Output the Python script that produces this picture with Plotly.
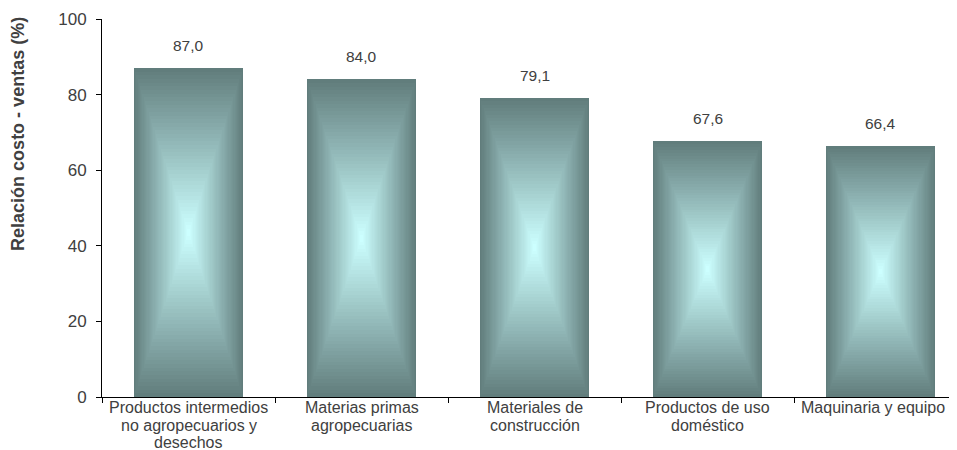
import plotly.graph_objects as go

categories = [
    "Productos intermedios<br>no agropecuarios y<br>desechos",
    "Materias primas<br>agropecuarias",
    "Materiales de<br>construcción",
    "Productos de uso<br>doméstico",
    "Maquinaria y equipo",
]
values = [87.0, 84.0, 79.1, 67.6, 66.4]
y_ticks = [0, 20, 40, 60, 80, 100]
y_title = "Relación costo - ventas (%)"

EDGE = (95, 122, 121)
CENTER = (204, 255, 255)
N_LAYERS = 45
BAR_W = 0.63
FONT = "Liberation Sans, Arial, sans-serif"
TXT = "#404040"
LINE_H = 17.5
# horizontal nudges for category labels (keep last one inside the window)
LABEL_NUDGE = [0, 0, 0, 0, -8]

fig = go.Figure()
for k in range(N_LAYERS):
    f = k / N_LAYERS
    t = min(1.0, (k + 1) / N_LAYERS)
    col = tuple(round(EDGE[i] + (CENTER[i] - EDGE[i]) * t) for i in range(3))
    fig.add_trace(go.Bar(
        x=categories,
        y=[v * (1 - f) for v in values],
        base=[v * f / 2 for v in values],
        width=BAR_W * (1 - f),
        marker=dict(color="rgb(%d,%d,%d)" % col, line=dict(width=0)),
        hoverinfo="skip",
        showlegend=False,
    ))

# value labels
for c, v in zip(categories, values):
    fig.add_annotation(
        x=c, y=v, yshift=23, showarrow=False,
        text=f"{v:.1f}".replace(".", ","),
        font=dict(family=FONT, size=15.5, color=TXT),
    )

# category labels (tighter line spacing than plotly's tick labels)
for c, dx in zip(categories, LABEL_NUDGE):
    for j, line in enumerate(c.split("<br>")):
        fig.add_annotation(
            x=c, xref="x", y=0, yref="paper", yanchor="middle",
            yshift=-(10.5 + j * LINE_H), xshift=dx, showarrow=False,
            text=line, borderpad=0,
            font=dict(family=FONT, size=16, color=TXT),
        )

# y-axis title (placed toward the top, as in the original)
fig.add_annotation(
    x=0, xref="paper", xanchor="center", xshift=-84,
    y=0.696, yref="paper", yanchor="middle",
    textangle=-90, showarrow=False,
    text=f"<b>{y_title}</b>",
    font=dict(family=FONT, size=18, color=TXT),
)

fig.update_layout(
    width=957, height=450,
    margin=dict(l=94, r=0, t=11, b=61),
    barmode="overlay",
    bargap=0,
    plot_bgcolor="white",
    paper_bgcolor="white",
    font=dict(family=FONT, size=15, color=TXT),
)
fig.update_xaxes(
    type="category",
    range=[-0.5, 4.488],
    automargin=False,
    showline=True, linecolor="black", linewidth=1,
    ticks="outside", tickson="boundaries", ticklen=5, tickcolor="black",
    showgrid=False,
    showticklabels=False,
)
fig.update_yaxes(
    range=[0, 100],
    automargin=False,
    tickvals=y_ticks,
    showline=True, linecolor="black", linewidth=1,
    ticks="outside", ticklen=5, tickcolor="black",
    ticklabelstandoff=6,
    showgrid=False, zeroline=False,
    tickfont=dict(family=FONT, size=17, color=TXT),
)

fig.write_html("out.html")
